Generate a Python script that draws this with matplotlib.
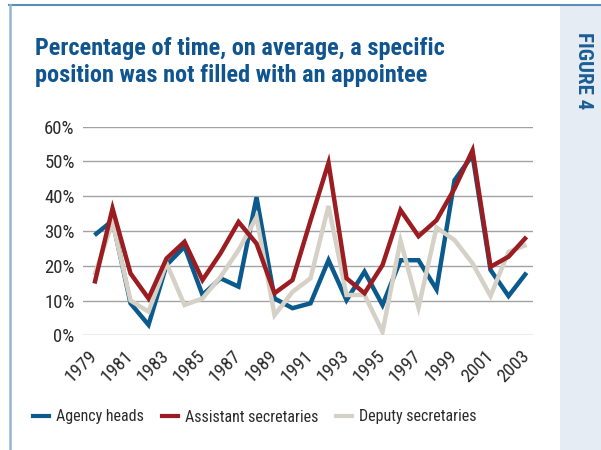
import matplotlib
matplotlib.use("Agg")
import matplotlib.pyplot as plt
from matplotlib import font_manager
from matplotlib.lines import Line2D
from matplotlib.patches import Rectangle

YEARS = list(range(1979, 2004))
TICK_YEARS = list(range(1979, 2004, 2))
Y_TICKS = [0, 10, 20, 30, 40, 50, 60]

AGENCY_HEADS = [28.8, 33.0, 9.2, 3.0, 20.2, 25.5, 11.6, 16.4, 14.0, 39.7,
                10.6, 7.8, 9.2, 21.6, 10.1, 18.3, 8.7, 21.6, 21.6, 13.2,
                44.6, 51.8, 18.8, 11.3, 18.0]
ASSISTANT_SECRETARIES = [14.9, 36.5, 17.8, 10.6, 22.1, 26.9, 15.9, 23.6, 32.6, 26.4,
                         12.1, 15.9, 33.0, 49.6, 16.4, 12.1, 20.2, 36.0, 28.5, 33.1,
                         42.2, 53.2, 19.7, 22.6, 28.3]
DEPUTY_SECRETARIES = [17.3, 32.5, 10.0, 6.8, 20.7, 8.7, 10.6, 16.8, 24.5, 34.0,
                      5.8, 12.5, 16.4, 37.2, 11.6, 11.6, 1.0, 27.2, 8.0, 31.0,
                      27.4, 20.7, 11.3, 24.0, 26.0]

SERIES = ["Agency heads", "Assistant secretaries", "Deputy secretaries"]
COLORS = ["#0b5a8d", "#9b1c21", "#d6d1c6"]

TITLE_1 = "Percentage of time, on average, a specific"
TITLE_2 = "position was not filled with an appointee"


def pick_font(candidates):
    names = {f.name for f in font_manager.fontManager.ttflist}
    for c in candidates:
        if c in names:
            return c
    return "DejaVu Sans"


FONT = pick_font(["Liberation Sans Narrow", "Roboto Condensed", "Lato", "Roboto"])
plt.rcParams["font.family"] = [FONT, "DejaVu Sans"]

W, H = 601, 450
fig = plt.figure(figsize=(W / 100, H / 100), dpi=100)

# frame: top + left border, light side strip
fig.patches.append(Rectangle((560 / W, 0), 41 / W, 1 - 6 / H, transform=fig.transFigure,
                             facecolor="#e6ecf4", edgecolor="none", zorder=0))
fig.add_artist(Line2D([9 / W, 1], [1 - 5 / H, 1 - 5 / H], color="#5b8dba", lw=1.5))
fig.add_artist(Line2D([10 / W, 10 / W], [0, 1 - 5 / H], color="#93b5d3", lw=1.8))

fig.text(584 / W, 1 - 32 / H, "FIGURE 4", rotation=270, ha="center", va="top",
         fontsize=15, fontweight="bold", color="#1b5d93")

fig.text(35 / W, 1 - 55 / H, TITLE_1, ha="left", va="baseline",
         fontsize=17.5, fontweight="bold", color="#10558f")
fig.text(35 / W, 1 - 82 / H, TITLE_2, ha="left", va="baseline",
         fontsize=17.5, fontweight="bold", color="#10558f")

ax = fig.add_axes([83 / W, 1 - 335.3 / H, 450 / W, 208.6 / H])
z = {0: 2, 2: 3, 1: 4}
for i, (name, vals) in enumerate(zip(SERIES, [AGENCY_HEADS, ASSISTANT_SECRETARIES, DEPUTY_SECRETARIES])):
    ax.plot(YEARS, vals, color=COLORS[i], lw=3.2, label=name, zorder=z[i],
            solid_joinstyle="miter", solid_capstyle="butt")

ax.set_xlim(1978.36, 2003.36)
ax.set_ylim(0, 60)
ax.set_yticks(Y_TICKS)
ax.set_yticklabels([f"{v}%" for v in Y_TICKS])
ax.set_xticks(TICK_YEARS)
ax.set_xticklabels([str(y) for y in TICK_YEARS], rotation=45, ha="right",
                   va="center", rotation_mode="anchor")
ax.tick_params(axis="both", length=0, labelsize=13.5, colors="#2b2b2b")
ax.tick_params(axis="y", pad=6)
ax.tick_params(axis="x", pad=13)
ax.grid(axis="y", color="#a3a3a3", lw=1)
ax.set_axisbelow(True)
for s in ax.spines.values():
    s.set_visible(False)

handles = [Line2D([], [], color=c, lw=3) for c in COLORS]
fig.legend(handles, SERIES, loc="center left", bbox_to_anchor=(33 / W, 1 - 417 / H),
           ncol=3, frameon=False, fontsize=11.5, handlelength=1.0, handletextpad=0.45,
           columnspacing=1.1, borderpad=0, borderaxespad=0, labelcolor="#2b2b2b")

fig.savefig("out.png", dpi=100)
